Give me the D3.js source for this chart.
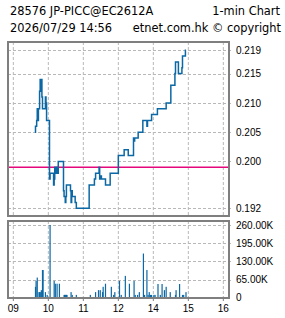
<!DOCTYPE html>
<html>
<head>
<meta charset="utf-8">
<script src="https://cdn.jsdelivr.net/npm/d3@7"></script>
<style>
  html, body { margin: 0; padding: 0; background: #fff; }
  svg { display: block; }
  text { font-family: "DejaVu Sans", sans-serif; fill: #000; }
  .tick-label { font-family: "Liberation Sans", Arial, sans-serif; font-size: 10px; }
</style>
</head>
<body>
<div id="chart"></div>
<script>
// chart values
const titleLeft = '28576 JP-PICC@EC2612A';
const titleRight = '1-min Chart';
const stampLeft = '2026/07/29 14:56';
const stampRight = 'etnet.com.hk \u00a9 copyright';

const prevClose = 0.199;
const lastTime = '14:56';

const priceTimes = [
  '09:37', '09:38', '09:40', '09:41', '09:42', '09:43', '09:45', '09:46', '09:47', '09:48',
  '09:49', '09:50', '09:55', '09:56', '09:57', '10:02', '10:03', '10:09', '10:10', '10:11',
  '10:13', '10:14', '10:15', '10:17', '10:26', '10:27', '10:29', '10:30', '10:31', '10:38',
  '10:39', '10:40', '10:41', '10:46', '10:48', '11:10', '11:19', '11:21', '11:27', '11:28',
  '11:30', '11:31', '11:33', '11:38', '11:46', '13:00', '13:10', '13:17', '13:26', '13:27',
  '13:28', '13:34', '13:42', '13:49', '13:50', '13:57', '14:07', '14:22', '14:30', '14:37',
  '14:38', '14:43', '14:49', '14:50', '14:55'
];
const priceValues = [
  0.205, 0.206, 0.207, 0.209, 0.207, 0.209, 0.212, 0.214, 0.212, 0.214,
  0.211, 0.209, 0.211, 0.210, 0.207, 0.197, 0.198, 0.196, 0.197, 0.199,
  0.198, 0.199, 0.198, 0.200, 0.195, 0.194, 0.193, 0.194, 0.196, 0.195,
  0.193, 0.195, 0.194, 0.193, 0.192, 0.196, 0.197, 0.198, 0.199, 0.197,
  0.1975, 0.197, 0.197, 0.196, 0.198, 0.201, 0.202, 0.201, 0.204, 0.2035,
  0.204, 0.205, 0.207, 0.206, 0.207, 0.208, 0.209, 0.210, 0.213, 0.215,
  0.217, 0.215, 0.216, 0.218, 0.219
];

const volTimes = [
  '09:38', '09:39', '09:41', '09:44', '09:45', '09:47', '09:48', '09:50', '09:51', '09:55',
  '09:58', '10:03', '10:10', '10:12', '10:15', '10:19', '10:27', '10:28', '10:29', '10:30',
  '10:31', '10:32', '10:39', '10:41', '10:48', '11:12', '11:21', '11:26', '11:29', '11:33',
  '11:34', '11:38', '11:48', '11:52', '11:54', '13:02', '13:05', '13:12', '13:19', '13:27',
  '13:29', '13:33', '13:36', '13:43', '13:45', '13:49', '13:51', '13:53', '13:55', '13:57',
  '14:01', '14:03', '14:08', '14:12', '14:15', '14:19', '14:22', '14:29', '14:38', '14:39',
  '14:45', '14:50', '14:52', '14:56'
];
const volValues = [
  39000, 60000, 72000, 20000, 20000, 20000, 27000, 99000, 99000, 20000,
  10000, 260000, 60000, 50000, 50000, 50000, 10000, 10000, 10000, 10000,
  10000, 10000, 20000, 10000, 10000, 10000, 20000, 27000, 27000, 20000,
  39000, 50000, 39000, 10000, 20000, 60000, 10000, 78000, 50000, 60000,
  10000, 10000, 20000, 158000, 10000, 99000, 10000, 20000, 10000, 10000,
  10000, 10000, 49000, 10000, 49000, 27000, 39000, 20000, 10000, 27000,
  49000, 10000, 10000, 20000
];

const hourTicks = ['09:00', '10:00', '11:00', '12:00', '14:00', '15:00', '16:00'];
const hourLabels = ['09', '10', '11', '12', '14', '15', '16'];
const priceTicks = [0.192, 0.200, 0.205, 0.210, 0.215, 0.219];
const volTicks = [0, 65000, 130000, 195000, 260000];

// trading minutes from 09:00, lunch (12:00-13:00) squeezed out
function sessionMinutes(t) {
  const [h, m] = t.split(':').map(Number);
  const mins = (h - 9) * 60 + m;
  return h >= 13 ? mins - 60 : mins;
}

const width = 285;
const height = 318;
const main = { left: 8, right: 229, top: 42, bottom: 216 };
const vol = { left: 8, right: 229, top: 221, bottom: 298 };

const x = d3.scaleLinear().domain([0, 360]).range([13.33, 223.33]);
const y = d3.scaleLinear().domain([0.192, 0.219]).range([208.3, 50.2]);
const yv = d3.scaleLinear().domain([0, 260000]).range([297.7, 225]);

const BLUE = '#0b68a4';
const GRID = '#b8b8b8';
const FRAME = '#7f7f7f';

const svg = d3.select('#chart').append('svg').attr('width', width).attr('height', height);

// header text
svg.append('text').attr('x', 10).attr('y', 15).style('font-size', '11.4px').text(titleLeft);
svg.append('text').attr('x', 280).attr('y', 15).attr('text-anchor', 'end').style('font-size', '11.4px').text(titleRight);
svg.append('text').attr('x', 10).attr('y', 32).style('font-size', '11.4px').text(stampLeft);
svg.append('text').attr('x', 281).attr('y', 32).attr('text-anchor', 'end').style('font-size', '11.4px').text(stampRight);

// grids
function vGrid(panel) {
  svg.append('g')
    .selectAll('line')
    .data(hourTicks)
    .join('line')
    .attr('x1', (d) => x(sessionMinutes(d)))
    .attr('x2', (d) => x(sessionMinutes(d)))
    .attr('y1', panel.top)
    .attr('y2', panel.bottom)
    .attr('stroke', GRID)
    .attr('stroke-dasharray', '3,2');
}
vGrid(main);
vGrid(vol);

svg.append('g')
  .selectAll('line')
  .data(priceTicks)
  .join('line')
  .attr('x1', main.left)
  .attr('x2', main.right + 4)
  .attr('y1', (d) => Math.round(y(d)) + 0.5)
  .attr('y2', (d) => Math.round(y(d)) + 0.5)
  .attr('stroke', GRID)
  .attr('stroke-dasharray', '3,2');

svg.append('g')
  .selectAll('line')
  .data(volTicks.filter((d) => d > 0))
  .join('line')
  .attr('x1', vol.left)
  .attr('x2', vol.right + 4)
  .attr('y1', (d) => Math.round(yv(d)) + 0.5)
  .attr('y2', (d) => Math.round(yv(d)) + 0.5)
  .attr('stroke', GRID)
  .attr('stroke-dasharray', '3,2');

// previous close
svg.append('line')
  .attr('x1', main.left)
  .attr('x2', main.right)
  .attr('y1', y(prevClose))
  .attr('y2', y(prevClose))
  .attr('stroke', '#e4087a')
  .attr('stroke-width', 1.5);

// price step line
const pricePts = priceTimes.map((t, i) => ({ m: sessionMinutes(t), v: priceValues[i] }));
pricePts.push({ m: sessionMinutes(lastTime), v: priceValues[priceValues.length - 1] });
const line = d3.line()
  .x((d) => x(d.m))
  .y((d) => y(d.v))
  .curve(d3.curveStepAfter);
svg.append('path')
  .datum(pricePts)
  .attr('fill', 'none')
  .attr('stroke', BLUE)
  .attr('stroke-width', 1.5)
  .attr('d', line);

// volume bars
svg.append('g')
  .selectAll('rect')
  .data(volTimes.map((t, i) => ({ m: sessionMinutes(t), v: volValues[i] })))
  .join('rect')
  .attr('x', (d) => x(d.m) - 0.6)
  .attr('width', 1.2)
  .attr('y', (d) => yv(d.v))
  .attr('height', (d) => yv(0) - yv(d.v))
  .attr('fill', BLUE);

// frames
[main, vol].forEach((p) => {
  svg.append('rect')
    .attr('x', p.left)
    .attr('y', p.top)
    .attr('width', p.right - p.left)
    .attr('height', p.bottom - p.top)
    .attr('fill', 'none')
    .attr('stroke', FRAME)
    .attr('stroke-width', 2);
});

// axis labels
svg.append('g')
  .selectAll('text')
  .data(priceTicks)
  .join('text')
  .attr('class', 'tick-label')
  .attr('x', 236)
  .attr('y', (d) => y(d) + 3.6)
  .text((d) => d3.format('.3f')(d));

svg.append('g')
  .selectAll('text')
  .data(volTicks)
  .join('text')
  .attr('class', 'tick-label')
  .attr('x', 236)
  .attr('y', (d) => yv(d) + 3.6)
  .text((d) => (d === 0 ? '0' : d3.format('.2f')(d / 1000) + 'K'));

svg.append('g')
  .selectAll('line')
  .data(hourTicks)
  .join('line')
  .attr('x1', (d) => x(sessionMinutes(d)))
  .attr('x2', (d) => x(sessionMinutes(d)))
  .attr('y1', vol.bottom)
  .attr('y2', vol.bottom + 3)
  .attr('stroke', FRAME);

svg.append('g')
  .selectAll('text')
  .data(hourTicks)
  .join('text')
  .attr('class', 'tick-label')
  .attr('x', (d) => x(sessionMinutes(d)))
  .attr('y', 312)
  .attr('text-anchor', 'middle')
  .text((d, i) => hourLabels[i]);
</script>
</body>
</html>
